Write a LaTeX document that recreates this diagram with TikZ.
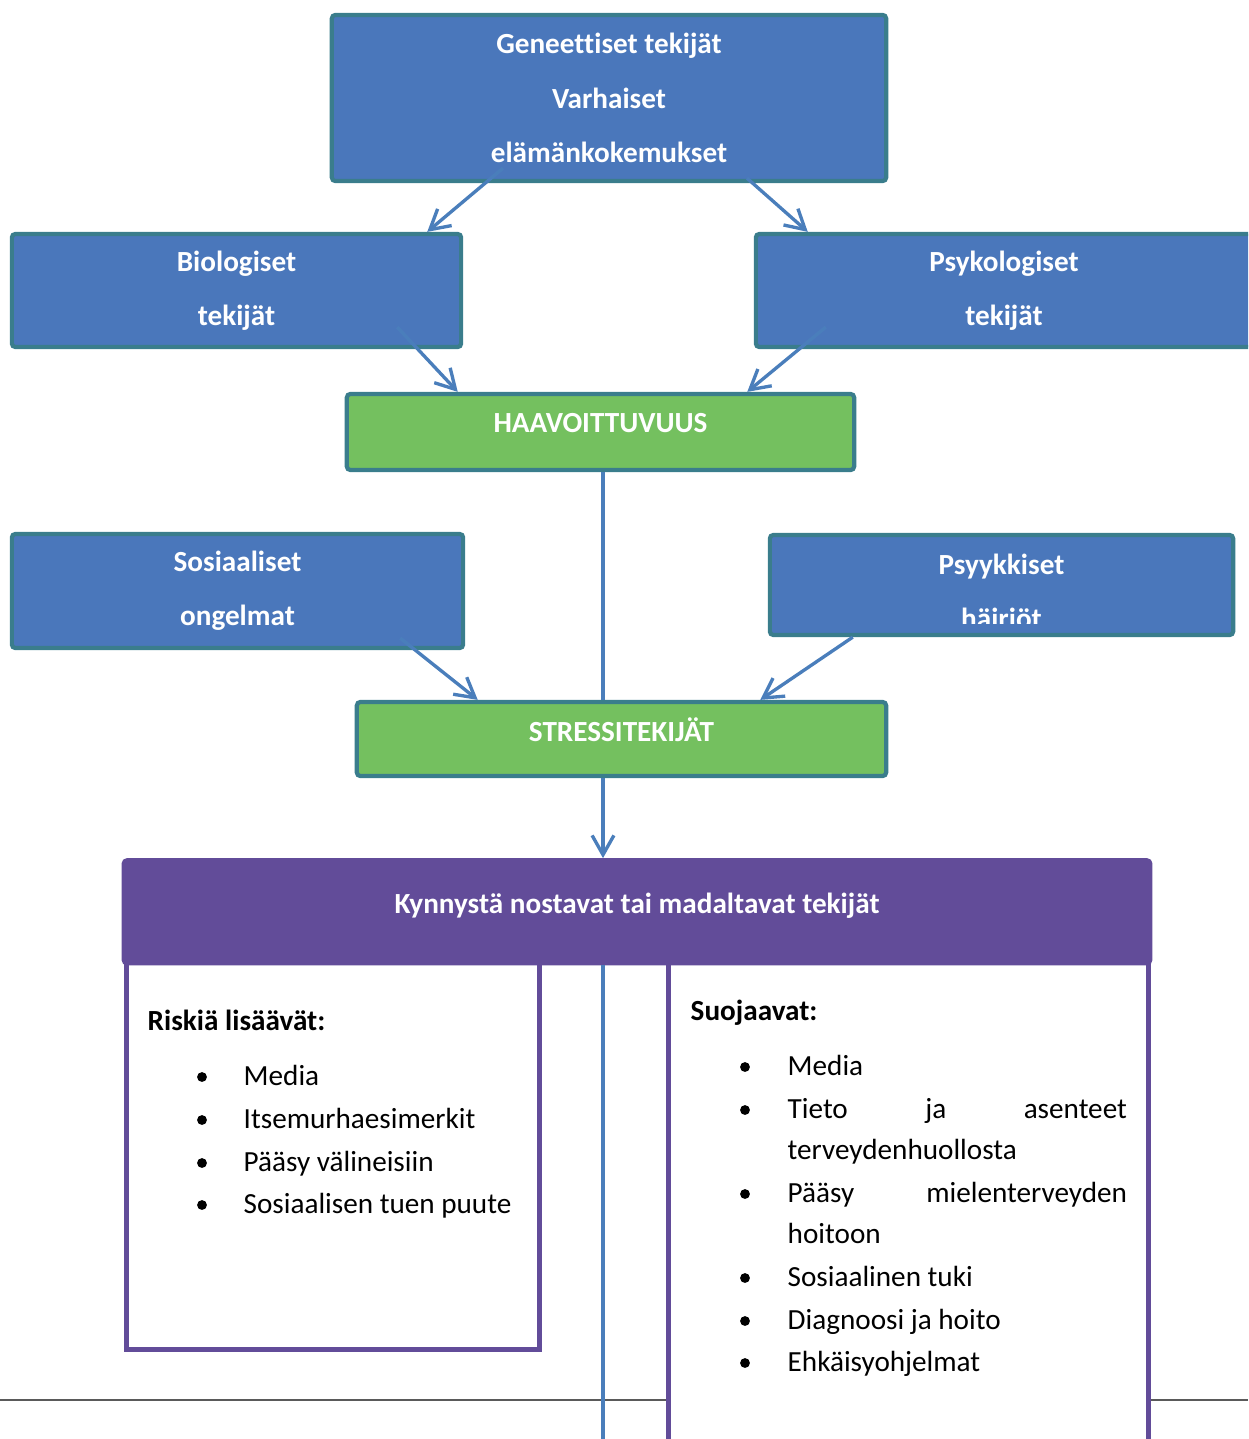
\documentclass[tikz,border=0pt]{standalone}
\usepackage{fontspec}
\setmainfont{Carlito}[Ligatures = NoCommon]
\usetikzlibrary{arrows.meta,calc}

\definecolor{boxblue}{HTML}{4A77BB}
\definecolor{boxedge}{HTML}{3A7D8C}
\definecolor{haagreen}{HTML}{74C05F}
\definecolor{kynpurple}{HTML}{624C99}
\definecolor{linkblue}{HTML}{4A7EBB}
\definecolor{sepgray}{HTML}{5A5A5A}

\begin{document}
\begin{tikzpicture}[x = 0.01cm, y = -0.01cm,
    boxtext/.style = {text = white, align = center, inner sep = 0pt,
        font = \bfseries\fontsize{8.3}{15.4}\selectfont},
    box/.style = {boxtext, draw = boxedge, line width = 1.2pt, rounded corners = 1pt, fill = boxblue},
    greenbox/.style = {box, fill = haagreen, text depth = 0.18cm},
    listbox/.style = {draw = kynpurple, line width = 1.4pt, fill = white, inner sep = 0pt},
    listhead/.style = {anchor = mid west, inner sep = 0pt, font = \bfseries\fontsize{8.3}{10}\selectfont},
    listitem/.style = {anchor = mid west, inner sep = 0pt, font = \fontsize{8.3}{10}\selectfont},
    link/.style = {draw = linkblue, line width = 0.95pt, -{Straight Barb[length = 5.5pt, width = 6.2pt]}}]
    \useasboundingbox (0,0) rectangle (1248,1439);
    \clip (0,0) rectangle (1248,1439);
    \coordinate (pageL) at (0,1400);
    \coordinate (pageR) at (1248,1400);
    \coordinate (spine) at (603,1439);
    % page edge
    \draw[sepgray, line width = 0.7pt] (pageL) -- (pageR);
    % lower panels
    \node[listbox, minimum width = 4.12cm, minimum height = 3.88cm] (riski) at (333,1155.5) {};
    \node[listbox, minimum width = 4.79cm, minimum height = 5.2cm] (suoja) at (908.5,1222) {};
    % upper boxes
    \node[box, minimum width = 5.54cm, minimum height = 1.66cm] (gene) at (609,98)
        {Geneettiset tekijät\\Varhaiset\\elämänkokemukset};
    \node[box, minimum width = 4.49cm, minimum height = 1.13cm] (bio) at (236.5,290.5) {Biologiset\\tekijät};
    \node[box, minimum width = 4.96cm, minimum height = 1.13cm] (psyko) at (1004,290.5) {Psykologiset\\tekijät};
    \node[greenbox, minimum width = 5.07cm, minimum height = 0.76cm] (haavo) at (600.5,432) {HAAVOITTUVUUS};
    \node[box, minimum width = 4.51cm, minimum height = 1.14cm] (sosi) at (237.5,591) {Sosiaaliset\\ongelmat};
    \node[box, minimum width = 4.63cm, minimum height = 1.00cm] (psyyk) at (1001.5,585) {};
    \begin{scope}
        \clip (780,540) rectangle (1225,623);
        \node[boxtext] (psyyktxt) at (1001.5,591) {Psyykkiset\\häiriöt};
    \end{scope}
    \node[greenbox, minimum width = 5.29cm, minimum height = 0.74cm] (stress) at (621.5,739) {STRESSITEKIJÄT};
    % connectors
    \draw[link] ($(gene.south)+(-106,-15)$) -- ($(bio.north east)+(-36,0)$);
    \draw[link] ($(gene.south)+(138,-5)$) -- ($(psyko.north west)+(54,0)$);
    \draw[link] ($(bio.south east)+(-66,-22)$) -- ($(haavo.north west)+(113,0)$);
    \draw[link] ($(psyko.south west)+(72,-22)$) -- ($(haavo.north east)+(-109,0)$);
    \draw[link] ($(sosi.south east)+(-65,-12)$) -- ($(stress.north west)+(123,0)$);
    \draw[link] ($(psyyk.south west)+(85,0)$) -- ($(stress.north east)+(-128,0)$);
    \draw[linkblue, line width = 0.95pt] (haavo.south -| spine) -- (stress.north -| spine);
    \draw[link] (stress.south -| spine) -- ($(stress.south -| spine)+(0,80)$) coordinate (kyntop);
    \node[box, draw = kynpurple, fill = kynpurple, text depth = 0.18cm, minimum width = 10.26cm,
        minimum height = 1.03cm, anchor = north] (kyn) at ($(kyntop)+(34,0)$) {Kynnystä nostavat tai madaltavat tekijät};
    \draw[linkblue, line width = 0.95pt] (kyn.south -| spine) -- (spine);
    % risk list
    \node[listhead] (riskihead) at (147,1022) {Riskiä lisäävät:};
    \foreach \y/\t [count = \i] in {1077/Media, 1120/Itsemurhaesimerkit, 1163/Pääsy välineisiin,
        1205/Sosiaalisen tuen puute} {
        \fill (202,\y) circle (1.4pt);
        \node[listitem] (riski\i) at (243,\y) {\t};
    }
    % protective list
    \node[listhead] (suojahead) at (690,1012) {Suojaavat:};
    \foreach \y/\t [count = \i] in {1067/Media, 1110/{\makebox[3.39cm][s]{Tieto\hfill ja\hfill asenteet}},
        1194/{\makebox[3.39cm][s]{Pääsy\hfill mielenterveyden}}, 1278/Sosiaalinen tuki,
        1321/Diagnoosi ja hoito, 1363/Ehkäisyohjelmat} {
        \fill (745,\y) circle (1.4pt);
        \node[listitem] (suoja\i) at (787,\y) {\t};
    }
    \node[listitem] (suojajatko1) at (787,1151) {terveydenhuollosta};
    \node[listitem] (suojajatko2) at (787,1235) {hoitoon};
\end{tikzpicture}
\end{document}
